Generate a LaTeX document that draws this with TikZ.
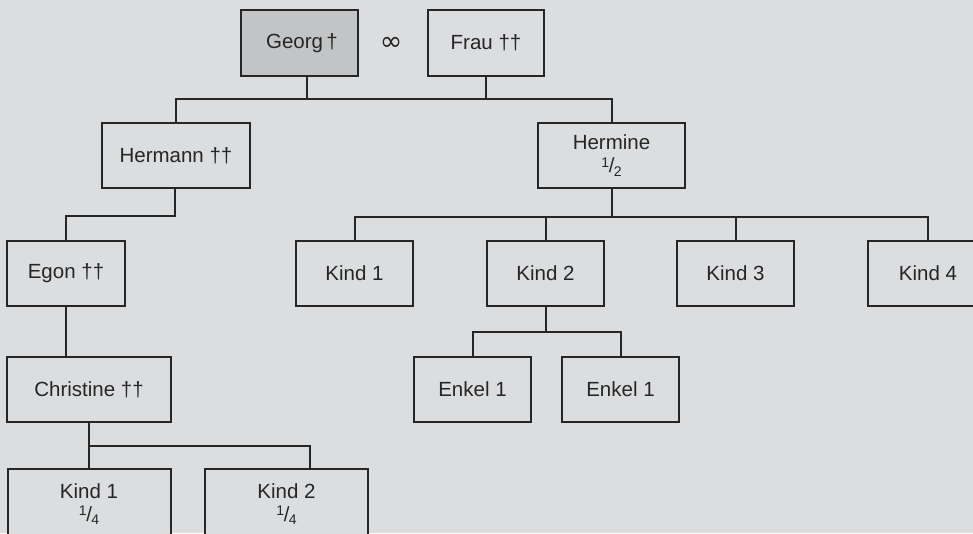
\documentclass[tikz,border=0pt]{standalone}
\usepackage{fontspec}
\setmainfont{Liberation Sans}
\newfontfamily\symfont{DejaVu Sans}
\definecolor{bg}{HTML}{DCDDDF}
\definecolor{ink}{HTML}{262626}
\definecolor{rootfill}{HTML}{C3C4C6}
% stacked fraction such as 1/2
\newcommand\sharefrac[2]{\raisebox{0.5ex}{\fontsize{14}{14}\selectfont #1}\kern-0.3pt/\kern-0.6pt\raisebox{-0.3ex}{\fontsize{14}{14}\selectfont #2}}
\tikzset{
  person/.style={draw=ink, line width=2pt, fill=bg, rectangle, inner sep=0pt,
    minimum width=117pt, minimum height=65pt, align=center, text=ink,
    font=\fontsize{20.5}{24}\selectfont},
  link/.style={draw=ink, line width=2pt}
}
\begin{document}
\begin{tikzpicture}[x=1pt,y=-1pt]
\useasboundingbox (0,0) rectangle (973,533);
\clip (0,0) rectangle (973,533);
\fill[bg] (0,0) rectangle (973,533);

% rails of the connectors
\coordinate (bar0) at (0,99);
\coordinate (bar1) at (0,216);
\coordinate (bar2) at (0,217);
\coordinate (bar3) at (0,332);
\coordinate (bar4) at (0,446);

% generation 0
\node[person, fill=rootfill, minimum width=117pt, minimum height=66pt] (georg) at (299.5,43) {\hspace*{5pt}Georg\,†};
\node[text=ink, font=\symfont\fontsize{27}{27}\selectfont, inner sep=0pt] (marr) at (391,44) {∞};
\node[person, minimum width=116pt, minimum height=66pt] (frau) at (486,43) {Frau ††};

% generation 1
\node[person, minimum width=148pt] (hermann) at (176,155.5) {Hermann ††};
\node[person, minimum width=147pt] (hermine) at (611.5,155.5) {Hermine\\[-1pt]\sharefrac{1}{2}};

% generation 2
\node[person, minimum width=118pt] (egon) at (66,273.5) {Egon ††};
\node[person] (hk1) at (354.5,273.5) {Kind 1};
\node[person] (hk2) at (545.5,273.5) {Kind 2};
\node[person] (hk3) at (735.5,273.5) {Kind 3};
\node[person, minimum width=120pt] (hk4) at (928,273.5) {Kind 4};

% generation 3
\node[person, minimum width=164pt] (christine) at (89,389.5) {Christine ††};
\node[person] (enkA) at (472.5,389.5) {Enkel 1};
\node[person] (enkB) at (620.5,389.5) {Enkel 1};

% generation 4
\node[person, minimum width=163pt, minimum height=70pt] (ck1) at (89,504) {Kind 1\\[-1pt]\sharefrac{1}{4}};
\node[person, minimum width=163pt, minimum height=70pt] (ck2) at (286.5,504) {Kind 2\\[-1pt]\sharefrac{1}{4}};

% Georg and Frau to their children
\draw[link] ([xshift=7.5pt]georg.south) -- ([xshift=7.5pt]georg.south |- bar0);
\draw[link] (frau.south) -- (frau.south |- bar0);
\draw[link] (hermann.north) -- (hermann.north |- bar0) -- (hermine.north |- bar0) -- (hermine.north);

% Hermann to Egon
\draw[link] ([xshift=-1pt]hermann.south) -- ([xshift=-1pt]hermann.south |- bar1) -| (egon.north);

% Hermine to her four children
\draw[link] (hermine.south) -- (hermine.south |- bar2);
\draw[link] (hk1.north) -- (hk1.north |- bar2) -- (hk4.north |- bar2) -- (hk4.north);
\draw[link] (hk2.north) -- (hk2.north |- bar2);
\draw[link] (hk3.north) -- (hk3.north |- bar2);

% Kind 2 to the grandchildren
\draw[link] (hk2.south) -- (hk2.south |- bar3);
\draw[link] (enkA.north) -- (enkA.north |- bar3) -- (enkB.north |- bar3) -- (enkB.north);

% Egon to Christine
\draw[link] (egon.south) -- (egon.south |- christine.north);

% Christine to her children
\draw[link] (christine.south) -- (christine.south |- bar4);
\draw[link] (ck1.north) -- (ck1.north |- bar4) -- ([xshift=23.5pt]ck2.north |- bar4) -- ([xshift=23.5pt]ck2.north);
\end{tikzpicture}
\end{document}
